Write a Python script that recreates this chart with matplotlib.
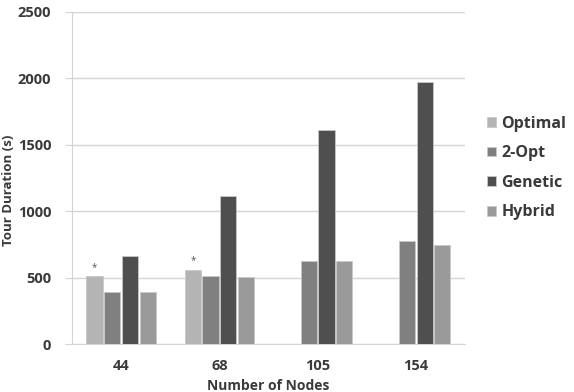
import numpy as np
import matplotlib
matplotlib.use("Agg")
import matplotlib.pyplot as plt

# --- datos ---
nodes = ["44", "68", "105", "154"]
series = ["Optimal", "2-Opt", "Genetic", "Hybrid"]
optimal = [510, 560, 0, 0]
two_opt = [395, 515, 625, 775]
genetic = [665, 1115, 1615, 1975]
hybrid = [395, 505, 625, 745]
colors = ["#b4b4b4", "#808080", "#4f4f4f", "#9a9a9a"]
yticks = [0, 500, 1000, 1500, 2000, 2500]

plt.rcParams["font.family"] = ["Open Sans", "DejaVu Sans"]
txt = "#3a3a3a"

fig = plt.figure(figsize=(5.74, 3.92), dpi=100)
ax = fig.add_axes([0.1254, 0.1224, 0.6846, 0.8470])

x = np.arange(len(nodes))
width = 0.165
step = 0.18
values = [optimal, two_opt, genetic, hybrid]
for i, (name, vals, col) in enumerate(zip(series, values, colors)):
    ax.bar(x + (i - 1.5) * step, vals, width, color=col, edgecolor="#c8c8c8",
           linewidth=0.6, label=name, zorder=3)

# asteriscos sobre las barras optimas
for xi, v in zip(x, optimal):
    if v > 0:
        ax.text(xi - 1.5 * step, v + 25, "*", ha="center", va="bottom",
                fontsize=7, color="#555555")

ax.set_xlim(-0.5, len(nodes) - 0.5)
ax.set_ylim(0, 2500)
ax.set_yticks(yticks)
ax.set_xticks(x)
ax.set_xticklabels(nodes)
ax.yaxis.grid(True, color="#d4d4d4", linewidth=1.0, zorder=0)
ax.set_axisbelow(True)
for s in ["top", "right"]:
    ax.spines[s].set_visible(False)
ax.spines["left"].set_color("#d4d4d4")
ax.spines["bottom"].set_color("#d4d4d4")
ax.tick_params(axis="y", length=5, color="#d4d4d4", labelsize=10.5,
               labelcolor=txt, pad=10)
ax.tick_params(axis="x", length=0, labelsize=10.5, labelcolor=txt, pad=11)
for lab in ax.get_xticklabels() + ax.get_yticklabels():
    lab.set_fontweight("bold")

# etiqueta del eje Y pegada al borde izquierdo
fig.text(0.004, 0.515, "Tour Duration (s)", rotation=90, ha="left",
         va="center", fontsize=9.5, fontweight="bold", color=txt)
ax.set_xlabel("Number of Nodes", fontsize=10, fontweight="bold", color=txt,
              labelpad=4)

leg = ax.legend(loc="center left", bbox_to_anchor=(1.02, 0.53), frameon=False,
                handlelength=0.55, handleheight=0.55, handletextpad=0.35,
                labelspacing=0.85, fontsize=11.5)
for t in leg.get_texts():
    t.set_fontweight("bold")
    t.set_color(txt)

fig.savefig("out.png", dpi=100)
